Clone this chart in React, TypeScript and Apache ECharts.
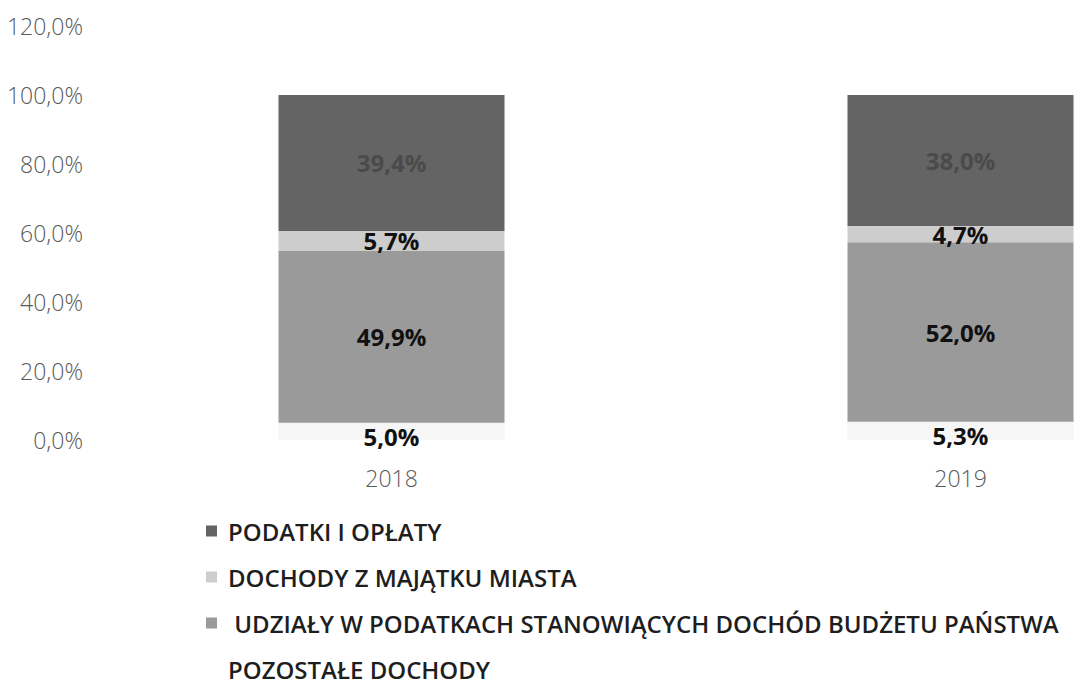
import React, { useEffect, useRef } from "react";
import * as echarts from "echarts";

const categories = ["2018", "2019"];
const seriesNames = [
  "POZOSTAŁE DOCHODY",
  " UDZIAŁY W PODATKACH STANOWIĄCYCH DOCHÓD BUDŻETU PAŃSTWA",
  "DOCHODY Z MAJĄTKU MIASTA",
  "PODATKI I OPŁATY",
];
const pozostale = [5.0, 5.3];
const udzialy = [49.9, 52.0];
const majatek = [5.7, 4.7];
const podatki = [39.4, 38.0];
const yTicks = [0, 20, 40, 60, 80, 100, 120];

const colors = ["#f6f6f6", "#9a9a9a", "#cdcdcd", "#646464"];
const legendColors = ["#ffffff", "#9a9a9a", "#cdcdcd", "#646464"];
const labelColors = ["#111", "#111", "#111", "#4a4a4a"];

const fmt = (v: number) => v.toFixed(1).replace(".", ",") + "%";

export default function App() {
  const ref = useRef<HTMLDivElement>(null);
  useEffect(() => {
    if (!ref.current) return;
    const chart = echarts.init(ref.current, undefined, { renderer: "svg" });
    const values = [pozostale, udzialy, majatek, podatki];
    const legendOrder = [3, 2, 1, 0];
    const legendTops = [516, 562, 608, 654];
    chart.setOption({
      animation: false,
      backgroundColor: "#ffffff",
      textStyle: { fontFamily: "Open Sans" },
      grid: {
        left: 107,
        right: -166,
        top: 26,
        height: 414,
        outerBoundsMode: "none",
        containLabel: false,
      },
      xAxis: {
        type: "category",
        data: categories,
        axisLine: { show: false },
        axisTick: { show: false },
        axisLabel: { color: "#595959", fontSize: 23, margin: 26, fontWeight: 300 },
      },
      yAxis: {
        type: "value",
        min: yTicks[0],
        max: yTicks[yTicks.length - 1],
        interval: 20,
        splitLine: { show: false },
        axisLine: { show: false },
        axisTick: { show: false },
        axisLabel: {
          color: "#595959",
          fontSize: 23,
          margin: 24,
          fontWeight: 300,
          formatter: (v: number) => fmt(v),
        },
      },
      legend: legendOrder.map((si, i) => ({
        data: [
          {
            name: seriesNames[si],
            itemStyle: { color: legendColors[si] },
          },
        ],
        orient: "vertical",
        left: 206,
        top: legendTops[i],
        icon: "rect",
        itemWidth: 11,
        itemHeight: 11,
        itemGap: 0,
        padding: 0,
        selectedMode: false,
        textStyle: {
          color: "#1e1e1e",
          fontSize: 24,
          lineHeight: 30,
          fontWeight: 600,
          fontFamily: "Open Sans",
          padding: [0, 0, 0, 6],
        },
      })),
      series: values.map((vals, si) => ({
        name: seriesNames[si],
        type: "bar",
        stack: "total",
        barWidth: 226,
        data: vals,
        itemStyle: { color: colors[si] },
        label: {
          show: true,
          position: "inside",
          color: labelColors[si],
          fontSize: 24,
          fontWeight: 700,
          fontFamily: "Open Sans",
          formatter: (p: any) => fmt(p.value),
          offset: si === 0 ? [0, 5] : [0, 0],
        },
      })),
    });
    return () => chart.dispose();
  }, []);
  return (
    <div
      ref={ref}
      style={{ position: "fixed", left: 0, top: 0, width: 1079, height: 686 }}
    />
  );
}
